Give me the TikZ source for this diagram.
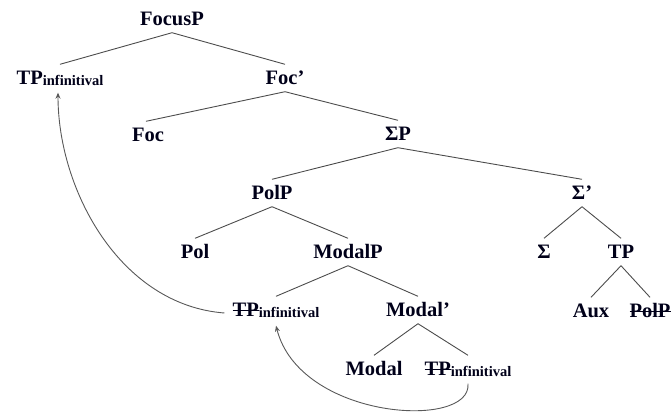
\documentclass[tikz,border=0pt]{standalone}
\usepackage{fontspec}
\setmainfont{Liberation Serif}
\usetikzlibrary{arrows.meta}
\newcommand{\strk}[1]{\setbox0\hbox{#1}\rlap{\rule[0.42\ht0]{\wd0}{0.9pt}}\box0}
\newcommand{\subinf}{\raisebox{-0.5pt}{\fontsize{14.5}{15}\selectfont\bfseries infinitival}}
\begin{document}
\begin{tikzpicture}[x=1pt,y=-1pt,
  lbl/.style={font=\fontsize{20.5}{22}\selectfont\bfseries, text=black!90!blue, inner sep=0pt, text height=13pt, text depth=0pt},
  edge/.style={draw=black!70, line width=0.9pt},
  mv/.style={draw=black!65, line width=0.9pt, -{Stealth[length=6pt,width=5pt]}}]
\useasboundingbox (0,0) rectangle (672,416);
\node[lbl] (FocusP) at (172,19) {FocusP};
\node[lbl] (TPa) at (60,78) {TP\subinf};
\node[lbl] (Focp) at (285,78) {Foc'};
\node[lbl] (Foc) at (148,135) {Foc};
\node[lbl] (SigP) at (398,134) {ΣP};
\node[lbl] (PolP) at (272,193) {PolP};
\node[lbl] (Sigp) at (582,193) {Σ'};
\node[lbl] (Pol) at (195,252) {Pol};
\node[lbl] (ModalP) at (348,252) {ModalP};
\node[lbl] (Sig) at (544,252) {Σ};
\node[lbl] (TP) at (621,252) {TP};
\node[lbl] (TPb) at (276,310) {\strk{TP}\subinf};
\node[lbl] (Modalp) at (418,310) {Modal'};
\node[lbl] (Aux) at (591,311) {Aux};
\node[lbl] (PolPs) at (650,311) {\strk{PolP}};
\node[lbl] (Modal) at (374,369) {Modal};
\node[lbl] (TPc) at (468,369) {\strk{TP}\subinf};
% tree edges
\draw[edge] ([yshift=-7pt]FocusP.south) -- ([yshift=7pt]TPa.north);
\draw[edge] ([yshift=-7pt]FocusP.south) -- ([yshift=7pt]Focp.north);
\draw[edge] ([yshift=-7pt]Focp.south) -- ([xshift=-2pt,yshift=7pt]Foc.north);
\draw[edge] ([yshift=-7pt]Focp.south) -- ([yshift=7pt]SigP.north);
\draw[edge] ([yshift=-7pt]SigP.south) -- ([yshift=7pt]PolP.north);
\draw[edge] ([yshift=-7pt]SigP.south) -- ([yshift=7pt]Sigp.north);
\draw[edge] ([yshift=-7pt]PolP.south) -- ([yshift=7pt]Pol.north);
\draw[edge] ([yshift=-7pt]PolP.south) -- ([yshift=7pt]ModalP.north);
\draw[edge] ([yshift=-7pt]Sigp.south) -- ([yshift=7pt]Sig.north);
\draw[edge] ([yshift=-7pt]Sigp.south) -- ([yshift=7pt]TP.north);
\draw[edge] ([yshift=-7pt]ModalP.south) -- ([yshift=7pt]TPb.north);
\draw[edge] ([yshift=-7pt]ModalP.south) -- ([yshift=7pt]Modalp.north);
\draw[edge] ([yshift=-7pt]TP.south) -- ([yshift=7pt]Aux.north);
\draw[edge] ([yshift=-7pt]TP.south) -- ([yshift=7pt]PolPs.north);
\draw[edge] ([yshift=-7pt]Modalp.south) -- ([yshift=7pt]Modal.north);
\draw[edge] ([yshift=-7pt]Modalp.south) -- ([yshift=7pt]TPc.north);
% movement arrows
\coordinate (a0) at ([xshift=-8pt,yshift=-3pt]TPb.west);
\coordinate (a1) at ([xshift=-2pt,yshift=-8pt]TPa.south);
\draw[mv] (a0) .. controls (120,305) and (58,190) .. (a1);
\coordinate (b0) at ([yshift=-8pt]TPc.south);
\coordinate (b1) at ([yshift=-9pt]TPb.south);
\draw[mv] (b0) .. controls (472,430) and (300,420) .. (b1);
\end{tikzpicture}
\end{document}
